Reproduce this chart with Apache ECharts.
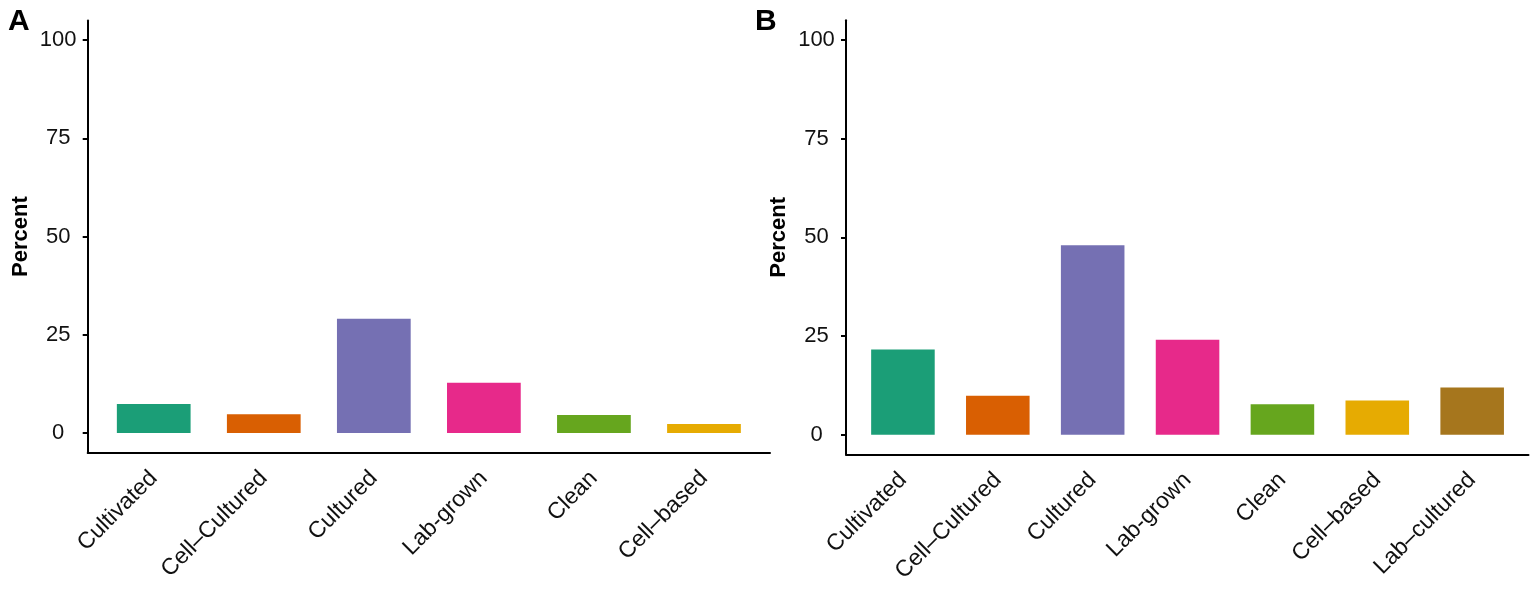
<!DOCTYPE html>
<html>
<head>
<meta charset="utf-8">
<script src="https://cdn.jsdelivr.net/npm/echarts@6/dist/echarts.min.js"></script>
<style>
  html, body { margin: 0; padding: 0; background: #fff; }
  #chart { width: 1535px; height: 593px; }
</style>
</head>
<body>
<div id="chart"></div>
<script>
// ---- data ----
const categoriesA = ['Cultivated', 'Cell–Cultured', 'Cultured', 'Lab-grown', 'Clean', 'Cell–based'];
const valuesA = [7.4, 4.8, 29.1, 12.8, 4.6, 2.3];
const categoriesB = ['Cultivated', 'Cell–Cultured', 'Cultured', 'Lab-grown', 'Clean', 'Cell–based', 'Lab–cultured'];
const valuesB = [21.6, 9.9, 48.0, 24.1, 7.7, 8.7, 12.0];
const yTicks = [0, 25, 50, 75, 100];
const palette = ['#1B9E77', '#D95F02', '#7570B3', '#E7298A', '#66A61E', '#E6AB02', '#A6761D'];

const FONT = "'Liberation Sans', Arial, Helvetica, sans-serif";
const LINE = { color: '#000', width: 2 };

function frameX(gi) {
  return {
    gridIndex: gi, type: 'value', min: 0, max: 1,
    axisLine: { show: true, onZero: false, lineStyle: LINE },
    axisTick: { show: false }, axisLabel: { show: false }, splitLine: { show: false }
  };
}
function catX(gi, cats) {
  return {
    gridIndex: gi, type: 'category', data: cats,
    axisLine: { show: false }, axisTick: { show: false }, splitLine: { show: false },
    axisLabel: { interval: 0, rotate: 45, fontSize: 23, color: '#111', margin: 22, fontFamily: FONT }
  };
}
function frameY(gi) {
  return {
    gridIndex: gi, type: 'value', min: -5, max: 105,
    axisLine: { show: true, onZero: false, lineStyle: LINE },
    axisTick: { show: true, length: 5, lineStyle: LINE, customValues: yTicks },
    axisLabel: { customValues: yTicks, fontSize: 22, color: '#111', margin: 29.5, align: 'center', fontFamily: FONT },
    splitLine: { show: false },
    name: 'Percent', nameLocation: 'middle', nameGap: 56,
    nameTextStyle: { fontSize: 22, fontWeight: 'bold', color: '#000', fontFamily: FONT }
  };
}
function hiddenY(gi) {
  return { gridIndex: gi, type: 'value', min: -5, max: 105, show: false };
}

const option = {
  animation: false,
  color: palette,
  textStyle: { fontFamily: FONT },
  title: [
    { text: 'A', left: 8, top: 7, padding: 0, textStyle: { fontSize: 30, fontWeight: 'bold', color: '#000', fontFamily: FONT } },
    { text: 'B', left: 755, top: 7, padding: 0, textStyle: { fontSize: 30, fontWeight: 'bold', color: '#000', fontFamily: FONT } }
  ],
  grid: [
    { left: 87.7, width: 682.3, top: 20.4, height: 432.3 },
    { left: 98.7, width: 660.3, top: 20.4, height: 432.3 },
    { left: 846, width: 682.5, top: 20.3, height: 434.2 },
    { left: 855.5, width: 664.1, top: 20.3, height: 434.2 }
  ],
  xAxis: [frameX(0), catX(1, categoriesA), frameX(2), catX(3, categoriesB)],
  yAxis: [frameY(0), hiddenY(1), frameY(2), hiddenY(3)],
  series: [
    { type: 'bar', xAxisIndex: 1, yAxisIndex: 1, data: valuesA, colorBy: 'data', barWidth: '67%' },
    { type: 'bar', xAxisIndex: 3, yAxisIndex: 3, data: valuesB, colorBy: 'data', barWidth: '67%' }
  ]
};

const chart = echarts.init(document.getElementById('chart'), null, { renderer: 'canvas' });
chart.setOption(option);
</script>
</body>
</html>
